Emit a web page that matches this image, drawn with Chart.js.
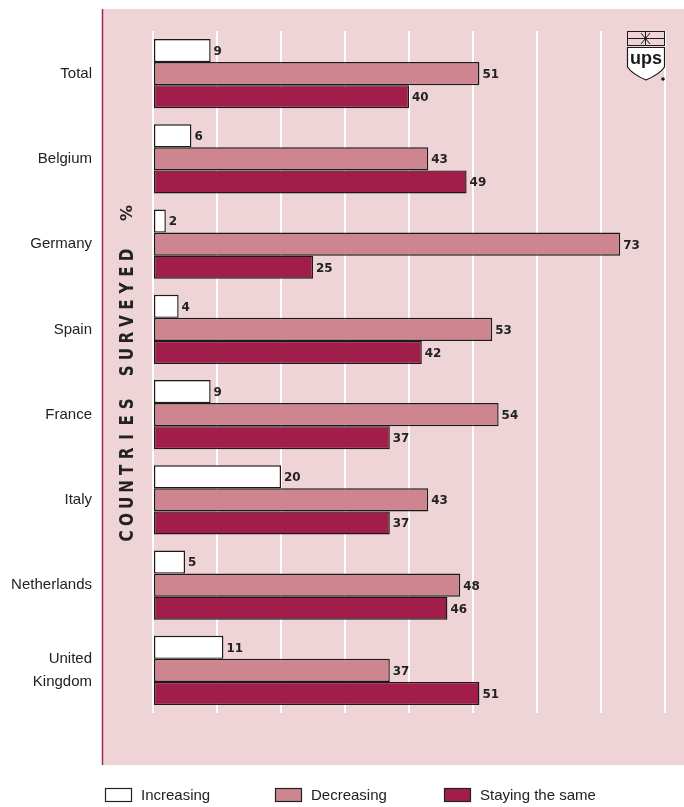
<!DOCTYPE html>
<html>
<head>
<meta charset="utf-8">
<script src="https://cdn.jsdelivr.net/npm/chart.js@4.4.0/dist/chart.umd.min.js"></script>
<style>
  html, body { margin: 0; padding: 0; background: #ffffff; }
  #wrap { width: 684px; height: 807px; position: relative; }
</style>
</head>
<body>
<div id="wrap"><canvas id="graphique" width="684" height="807"></canvas></div>
<script>
// Données (en %)
const pays = ['Total', 'Belgium', 'Germany', 'Spain', 'France', 'Italy', 'Netherlands', ['United', 'Kingdom']];
const enHausse = [9, 6, 2, 4, 9, 20, 5, 11];
const enBaisse = [51, 43, 73, 53, 54, 43, 48, 37];
const stable = [40, 49, 25, 42, 37, 37, 46, 51];
const nomsSeries = ['Increasing', 'Decreasing', 'Staying the same'];
const couleursSeries = ['#ffffff', '#cd8690', '#a21e4a'];
const graduations = [0, 10, 20, 30, 40, 50, 60, 70, 80];

const FOND = '#efd4d7';
const TEXTE = '#222222';

// Fond rose du panneau et filet gauche
const fondPanneau = {
    id: 'fondPanneau',
    beforeDraw(chart) {
        const ctx = chart.ctx;
        ctx.save();
        ctx.fillStyle = FOND;
        ctx.fillRect(103, 9, 581, 756);
        ctx.strokeStyle = '#a3264f';
        ctx.lineWidth = 1.5;
        ctx.beginPath();
        ctx.moveTo(102.5, 9);
        ctx.lineTo(102.5, 765);
        ctx.stroke();
        ctx.restore();
    }
};

// Valeurs écrites au bout des barres
const etiquettes = {
    id: 'etiquettes',
    afterDatasetsDraw(chart) {
        const ctx = chart.ctx;
        ctx.save();
        ctx.font = 'bold 13px "DejaVu Sans"';
        ctx.fillStyle = TEXTE;
        ctx.textBaseline = 'middle';
        ctx.textAlign = 'left';
        chart.data.datasets.forEach((ds, i) => {
            chart.getDatasetMeta(i).data.forEach((barre, j) => {
                ctx.save();
                ctx.translate(barre.x + 3, barre.y + 1);
                ctx.scale(0.92, 1);
                ctx.fillText(String(ds.data[j]), 0, 0);
                ctx.restore();
            });
        });
        ctx.restore();
    }
};

// Titre vertical "COUNTRIES SURVEYED %"
const titreVertical = {
    id: 'titreVertical',
    afterDraw(chart) {
        const ctx = chart.ctx;
        const texte = 'COUNTRIES SURVEYED';
        ctx.save();
        ctx.translate(133, 0);
        ctx.rotate(-Math.PI / 2);
        ctx.fillStyle = TEXTE;
        ctx.textBaseline = 'alphabetic';
        ctx.textAlign = 'center';
        ctx.font = 'bold 19px "DejaVu Sans"';
        const debut = -536, fin = -255;
        const pas = (fin - debut) / (texte.length - 1);
        for (let k = 0; k < texte.length; k++) {
            ctx.save();
            ctx.translate(debut + k * pas, 0);
            ctx.scale(0.8, 1);
            ctx.fillText(texte[k], 0, 0);
            ctx.restore();
        }
        ctx.font = 'bold 16px "DejaVu Sans"';
        ctx.fillText('%', -213, -1);
        ctx.restore();
    }
};

// Petit logo UPS en haut à droite
const logo = {
    id: 'logo',
    afterDraw(chart) {
        const ctx = chart.ctx;
        ctx.save();
        ctx.strokeStyle = '#1a1a1a';
        ctx.lineWidth = 1;
        ctx.strokeRect(627.5, 31.5, 37, 14);
        ctx.beginPath();
        ctx.moveTo(627.5, 38.5); ctx.lineTo(664.5, 38.5);
        ctx.moveTo(641, 33); ctx.lineTo(650, 44);
        ctx.moveTo(650, 33); ctx.lineTo(641, 44);
        ctx.moveTo(645.5, 32); ctx.lineTo(645.5, 45);
        ctx.stroke();
        ctx.fillStyle = '#ffffff';
        ctx.beginPath();
        ctx.moveTo(627.5, 47.5);
        ctx.lineTo(664.5, 47.5);
        ctx.lineTo(664.5, 67);
        ctx.quadraticCurveTo(660, 74, 646, 80);
        ctx.quadraticCurveTo(632, 74, 627.5, 67);
        ctx.closePath();
        ctx.fill();
        ctx.lineWidth = 1.2;
        ctx.stroke();
        ctx.fillStyle = '#1a1a1a';
        ctx.font = 'bold 18px "Liberation Sans Narrow", "Liberation Sans"';
        ctx.textAlign = 'center';
        ctx.textBaseline = 'alphabetic';
        ctx.fillText('ups', 646, 64);
        ctx.beginPath();
        ctx.arc(663, 79, 1.8, 0, Math.PI * 2);
        ctx.fill();
        ctx.restore();
    }
};

// Légende en bas, trois colonnes
const legendeBas = {
    id: 'legendeBas',
    afterDraw(chart) {
        const ctx = chart.ctx;
        const colonnes = [105, 275, 444];
        ctx.save();
        ctx.font = '15px "Liberation Sans"';
        ctx.textBaseline = 'middle';
        ctx.textAlign = 'left';
        chart.data.datasets.forEach((ds, i) => {
            const x = colonnes[i];
            ctx.fillStyle = ds.backgroundColor;
            ctx.fillRect(x + 0.5, 788.5, 26, 13);
            ctx.strokeStyle = TEXTE;
            ctx.lineWidth = 1.2;
            ctx.strokeRect(x + 0.5, 788.5, 26, 13);
            ctx.fillStyle = TEXTE;
            ctx.fillText(ds.label, x + 36, 796);
        });
        ctx.restore();
    }
};

function serie(i, valeurs) {
    return {
        label: nomsSeries[i],
        data: valeurs,
        backgroundColor: couleursSeries[i],
        borderColor: '#1a1a1a',
        borderWidth: 1.4,
        borderSkipped: false,
        barPercentage: 1,
        categoryPercentage: 0.81
    };
}

new Chart(document.getElementById('graphique'), {
    type: 'bar',
    data: {
        labels: pays,
        datasets: [serie(0, enHausse), serie(1, enBaisse), serie(2, stable)]
    },
    options: {
        indexAxis: 'y',
        responsive: false,
        animation: false,
        layout: { padding: { top: 31, right: 19, bottom: 94, left: 0 } },
        scales: {
            x: {
                type: 'linear',
                min: 0,
                max: 80,
                afterBuildTicks(scale) {
                    scale.ticks = graduations.map(v => ({ value: v }));
                },
                afterFit(scale) {
                    scale.height = 0;
                    scale.paddingLeft = 0;
                    scale.paddingRight = 0;
                },
                ticks: { display: false },
                border: { display: false },
                grid: { color: '#ffffff', lineWidth: 2, drawTicks: false }
            },
            y: {
                afterFit(scale) {
                    scale.width = 153;
                    scale.paddingTop = 0;
                    scale.paddingBottom = 0;
                },
                ticks: {
                    color: TEXTE,
                    padding: 61,
                    font: { family: '"Liberation Sans"', size: 15, lineHeight: 1.5 }
                },
                border: { display: false },
                grid: { display: false, drawTicks: false }
            }
        },
        plugins: {
            legend: { display: false },
            tooltip: { enabled: false }
        }
    },
    plugins: [fondPanneau, etiquettes, titreVertical, logo, legendeBas]
});
</script>
</body>
</html>
